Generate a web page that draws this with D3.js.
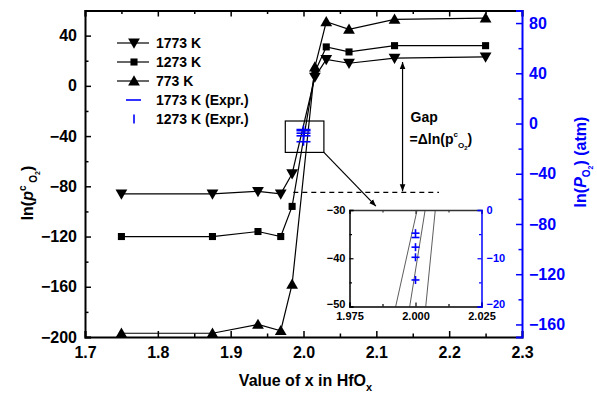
<!DOCTYPE html>
<html>
<head>
<meta charset="utf-8">
<script src="https://cdn.jsdelivr.net/npm/d3@7"></script>
<style>
  body { margin: 0; background: #fff; }
  svg { font-family: "Liberation Sans", Arial, sans-serif; font-weight: bold; }
</style>
</head>
<body>
<div id="chart"></div>
<script>
// x values (HfOx stoichiometry)
var xValues = [1.75, 1.875, 1.9375, 1.96875, 1.984375, 2.015625, 2.03125, 2.0625, 2.125, 2.25];
// ln(pc O2) per temperature
var k1773 = [-86, -86, -84, -86, -70, 7, 21, 18, 22, 23];
var k1273 = [-120, -120, -116, -120, -96, 11, 31, 27, 32, 32];
var k773  = [-197, -197, -190, -195, -158, 15, 51, 45, 53, 54];
// experimental ln(P O2) (atm), right axis, all at x = 2.000
var exprX = 2.0;
var expr1773 = [-4.8, -5.7, -7.7, -9.8, -14.5];
var expr1273 = [-4.8, -7.7, -9.8, -14.5];

var xTicks = [1.7, 1.8, 1.9, 2.0, 2.1, 2.2, 2.3];
var leftTicks = [-200, -160, -120, -80, -40, 0, 40];
var rightTicks = [-160, -120, -80, -40, 0, 40, 80];
var insetXTicks = [1.975, 2.000, 2.025];
var insetLeftTicks = [-50, -40, -30];
var insetRightTicks = [-20, -10, 0];

var legendNames = ["1773 K", "1273 K", "773 K", "1773 K (Expr.)", "1273 K (Expr.)"];

var gapBottom = -84.8, gapTop = 19, gapX = 2.136;

var width = 597, height = 395;
var margin = {top: 10.5, right: 75, bottom: 58, left: 85};
var blue = "#0000ff";

var svg = d3.select("#chart").append("svg")
    .attr("width", width).attr("height", height);

var x = d3.scaleLinear().domain([1.7, 2.3]).range([margin.left, width - margin.right]);
var yL = d3.scaleLinear().domain([-200, 60]).range([height - margin.bottom, margin.top]);
var yR = d3.scaleLinear().domain([-170, 90]).range([height - margin.bottom, margin.top]);

// arrow markers
var defs = svg.append("defs");
defs.append("marker").attr("id", "arr")
    .attr("viewBox", "0 0 10 10").attr("refX", 10).attr("refY", 5)
    .attr("markerWidth", 7).attr("markerHeight", 7).attr("markerUnits", "userSpaceOnUse")
    .attr("orient", "auto-start-reverse")
  .append("path").attr("d", "M0,1 L10,5 L0,9 Z").attr("fill", "#000");

function minorRange(a, b, step) {
  var out = [];
  for (var v = a; v <= b + 1e-9; v += step) out.push(+v.toFixed(4));
  return out;
}

// ---- main axes ----
function styleAxis(g, color, fs) {
  g.select(".domain").attr("stroke", color).attr("stroke-width", 2);
  g.selectAll(".tick line").attr("stroke", color).attr("stroke-width", 1.5);
  g.selectAll(".tick text").attr("fill", color).style("font-size", fs + "px")
    .style("font-weight", "bold").style("font-family", "Liberation Sans, Arial, sans-serif");
}
function minorStyle(g, color) {
  g.select(".domain").remove();
  g.selectAll("line").attr("stroke", color).attr("stroke-width", 1.5);
}

var bottomY = height - margin.bottom;
var gx = svg.append("g").attr("transform", "translate(0," + bottomY + ")")
    .call(d3.axisBottom(x).tickValues(xTicks).tickFormat(d3.format(".1f")).tickSize(-6).tickPadding(10));
styleAxis(gx, "#000", 16);
svg.append("g").attr("transform", "translate(0," + bottomY + ")")
    .call(d3.axisBottom(x).tickValues(minorRange(1.75, 2.25, 0.1)).tickFormat("").tickSize(-3.5))
    .call(function(g){ minorStyle(g, "#000"); });

var gTop = svg.append("g").attr("transform", "translate(0," + margin.top + ")")
    .call(d3.axisTop(x).tickValues(xTicks).tickFormat("").tickSize(-6));
styleAxis(gTop, "#000", 16);
svg.append("g").attr("transform", "translate(0," + margin.top + ")")
    .call(d3.axisTop(x).tickValues(minorRange(1.75, 2.25, 0.1)).tickFormat("").tickSize(-3.5))
    .call(function(g){ minorStyle(g, "#000"); });

var gl = svg.append("g").attr("transform", "translate(" + margin.left + ",0)")
    .call(d3.axisLeft(yL).tickValues(leftTicks).tickSize(-6).tickPadding(8));
styleAxis(gl, "#000", 16);
svg.append("g").attr("transform", "translate(" + margin.left + ",0)")
    .call(d3.axisLeft(yL).tickValues(minorRange(-180, 60, 40)).tickFormat("").tickSize(-3.5))
    .call(function(g){ minorStyle(g, "#000"); });

var rightX = width - margin.right;
var gr = svg.append("g").attr("transform", "translate(" + rightX + ",0)")
    .call(d3.axisRight(yR).tickValues(rightTicks).tickSize(-6).tickPadding(7));
styleAxis(gr, blue, 16);
svg.append("g").attr("transform", "translate(" + rightX + ",0)")
    .call(d3.axisRight(yR).tickValues(minorRange(-140, 60, 40)).tickFormat("").tickSize(-3.5))
    .call(function(g){ minorStyle(g, blue); });

// ---- axis titles ----
var xt = svg.append("text").attr("x", (margin.left + rightX) / 2 + 2).attr("y", 386)
    .attr("text-anchor", "middle").style("font-size", "16px");
xt.append("tspan").text("Value of x in HfO");
xt.append("tspan").attr("dy", 5).style("font-size", "11px").text("x");

var ylt = svg.append("text").attr("transform", "translate(33,193) rotate(-90)")
    .attr("text-anchor", "middle").style("font-size", "16px");
ylt.append("tspan").text("ln(");
ylt.append("tspan").style("font-style", "italic").text("p");
ylt.append("tspan").attr("dy", -7).style("font-size", "10px").text("c");
ylt.append("tspan").attr("dy", 11).style("font-size", "10px").text(" O");
ylt.append("tspan").attr("dy", 3).style("font-size", "7px").text("2");
ylt.append("tspan").attr("dy", -7).text(")");

var yrt = svg.append("text").attr("transform", "translate(586,162) rotate(-90)")
    .attr("text-anchor", "middle").attr("fill", blue).style("font-size", "16px");
yrt.append("tspan").text("ln(");
yrt.append("tspan").style("font-style", "italic").text("P");
yrt.append("tspan").attr("dy", 4).style("font-size", "10px").text("O");
yrt.append("tspan").attr("dy", 3).style("font-size", "7px").text("2");
yrt.append("tspan").attr("dy", -7).text(") (atm)");

// ---- series ----
var series = [
  {name: "1773 K", values: k1773, shape: "down"},
  {name: "1273 K", values: k1273, shape: "square"},
  {name: "773 K", values: k773, shape: "up"}
];

function markerPath(shape) {
  if (shape === "square") return d3.symbol(d3.symbolSquare, 50)();
  return d3.symbol(d3.symbolTriangle, 60)();
}
function markerTransform(shape, px, py) {
  if (shape === "down") return "translate(" + px + "," + (py - 1) + ") rotate(180)";
  if (shape === "up") return "translate(" + px + "," + (py + 1) + ")";
  return "translate(" + px + "," + py + ")";
}

var line = d3.line().x(function(d){ return x(d[0]); }).y(function(d){ return yL(d[1]); });

series.forEach(function(s) {
  var pts = xValues.map(function(v, i){ return [v, s.values[i]]; });
  svg.append("path").datum(pts).attr("d", line)
      .attr("fill", "none").attr("stroke", "#000").attr("stroke-width", 1.2);
});
series.forEach(function(s) {
  var pts = xValues.map(function(v, i){ return [v, s.values[i]]; });
  svg.append("g").selectAll("path").data(pts).enter().append("path")
      .attr("d", markerPath(s.shape))
      .attr("transform", function(d){ return markerTransform(s.shape, x(d[0]), yL(d[1])); })
      .attr("fill", "#000");
});

// experimental marks
function drawExpr(g, sx, sy, hw, vh) {
  g.selectAll(".eh").data(expr1773).enter().append("line")
    .attr("x1", sx(exprX) - hw / 2).attr("x2", sx(exprX) + hw / 2)
    .attr("y1", function(d){ return sy(d); }).attr("y2", function(d){ return sy(d); })
    .attr("stroke", blue).attr("stroke-width", 1.6);
  g.selectAll(".ev").data(expr1273).enter().append("line")
    .attr("x1", sx(exprX)).attr("x2", sx(exprX))
    .attr("y1", function(d){ return sy(d) - vh / 2; }).attr("y2", function(d){ return sy(d) + vh / 2; })
    .attr("stroke", blue).attr("stroke-width", 1.6);
}
drawExpr(svg.append("g"), x, yR, 14, 8);

// zoom box in main plot
var box = {x0: 1.975, x1: 2.028, y0: -53, y1: -28};
svg.append("rect")
    .attr("x", x(box.x0)).attr("y", yL(box.y1))
    .attr("width", x(box.x1) - x(box.x0)).attr("height", yL(box.y0) - yL(box.y1))
    .attr("fill", "none").attr("stroke", "#000").attr("stroke-width", 1.2);

// dashed reference line + gap arrow
svg.append("line")
    .attr("x1", x(1.986)).attr("x2", x(2.186))
    .attr("y1", yL(gapBottom)).attr("y2", yL(gapBottom))
    .attr("stroke", "#000").attr("stroke-width", 1.3).attr("stroke-dasharray", "5,4");
svg.append("line")
    .attr("x1", x(gapX)).attr("x2", x(gapX))
    .attr("y1", yL(gapTop)).attr("y2", yL(gapBottom) - 1)
    .attr("stroke", "#000").attr("stroke-width", 1.2)
    .attr("marker-start", "url(#arr)").attr("marker-end", "url(#arr)");

svg.append("text").attr("x", x(gapX) + 8).attr("y", 122).style("font-size", "14px").text("Gap");
var gt = svg.append("text").attr("x", x(gapX) + 7).attr("y", 144).style("font-size", "14px");
gt.append("tspan").text("=\u0394ln(p");
gt.append("tspan").attr("dy", -7).style("font-size", "8px").text("c");
gt.append("tspan").attr("dy", 11).style("font-size", "8px").text("O");
gt.append("tspan").attr("dy", 2).style("font-size", "6px").text("2");
gt.append("tspan").attr("dy", -6).text(")");

// ---- inset ----
var ix = d3.scaleLinear().domain([1.975, 2.025]).range([349.5, 481.5]);
var iy = d3.scaleLinear().domain([-50, -30]).range([306.5, 210]);
var iyR = d3.scaleLinear().domain([-20, 0]).range([306.5, 210]);

// connector from zoom box to inset
svg.append("line")
    .attr("x1", x(box.x1)).attr("y1", yL(box.y0))
    .attr("x2", ix(1.985)).attr("y2", iy(-29.2))
    .attr("stroke", "#000").attr("stroke-width", 1.2).attr("marker-end", "url(#arr)");

var inset = svg.append("g");
inset.append("rect").attr("x", ix(1.975)).attr("y", iy(-30))
    .attr("width", ix(2.025) - ix(1.975)).attr("height", iy(-50) - iy(-30)).attr("fill", "#fff");

defs.append("clipPath").attr("id", "insetClip").append("rect")
    .attr("x", ix(1.975)).attr("y", iy(-30))
    .attr("width", ix(2.025) - ix(1.975)).attr("height", iy(-50) - iy(-30));

var iline = d3.line().x(function(d){ return ix(d[0]); }).y(function(d){ return iy(d[1]); });
var clipG = inset.append("g").attr("clip-path", "url(#insetClip)");
series.forEach(function(s) {
  var pts = xValues.map(function(v, i){ return [v, s.values[i]]; });
  clipG.append("path").datum(pts).attr("d", iline)
      .attr("fill", "none").attr("stroke", "#333").attr("stroke-width", 0.8);
});
drawExpr(inset.append("g"), ix, iyR, 8, 8);

function styleInset(g, color) {
  g.select(".domain").attr("stroke", color).attr("stroke-width", 1.5);
  g.selectAll(".tick line").attr("stroke", color).attr("stroke-width", 1.2);
  g.selectAll(".tick text").attr("fill", color).style("font-size", "11px")
    .style("font-weight", "bold").style("font-family", "Liberation Sans, Arial, sans-serif");
}
function minorInset(g, color) {
  g.select(".domain").remove();
  g.selectAll("line").attr("stroke", color).attr("stroke-width", 1.2);
}

var ib = inset.append("g").attr("transform", "translate(0," + iy(-50) + ")")
    .call(d3.axisBottom(ix).tickValues(insetXTicks).tickFormat(d3.format(".3f")).tickSize(-4).tickPadding(6));
styleInset(ib, "#000");
inset.append("g").attr("transform", "translate(0," + iy(-50) + ")")
    .call(d3.axisBottom(ix).tickValues([1.9875, 2.0125]).tickFormat("").tickSize(-2.5))
    .call(function(g){ minorInset(g, "#000"); });
var it = inset.append("g").attr("transform", "translate(0," + iy(-30) + ")")
    .call(d3.axisTop(ix).tickValues(insetXTicks).tickFormat("").tickSize(-4));
styleInset(it, "#333");
inset.append("g").attr("transform", "translate(0," + iy(-30) + ")")
    .call(d3.axisTop(ix).tickValues([1.9875, 2.0125]).tickFormat("").tickSize(-2.5))
    .call(function(g){ minorInset(g, "#333"); });
var il = inset.append("g").attr("transform", "translate(" + ix(1.975) + ",0)")
    .call(d3.axisLeft(iy).tickValues(insetLeftTicks).tickSize(-4).tickPadding(4));
styleInset(il, "#000");
il.selectAll(".tick text").attr("dy", function(d){ return d === -50 ? "0.1em" : "0.32em"; });
inset.append("g").attr("transform", "translate(" + ix(1.975) + ",0)")
    .call(d3.axisLeft(iy).tickValues([-45, -35]).tickFormat("").tickSize(-2.5))
    .call(function(g){ minorInset(g, "#000"); });
var ir = inset.append("g").attr("transform", "translate(" + ix(2.025) + ",0)")
    .call(d3.axisRight(iyR).tickValues(insetRightTicks).tickSize(-4).tickPadding(5));
styleInset(ir, blue);
ir.selectAll(".tick text").attr("dy", function(d){ return d === -20 ? "0.1em" : "0.32em"; });
inset.append("g").attr("transform", "translate(" + ix(2.025) + ",0)")
    .call(d3.axisRight(iyR).tickValues([-15, -5]).tickFormat("").tickSize(-2.5))
    .call(function(g){ minorInset(g, blue); });

// ---- legend ----
var legend = svg.append("g");
var legY0 = 43, legStep = 19, legCx = 134;
legendNames.forEach(function(name, i) {
  var ly = legY0 + i * legStep;
  if (i < 3) {
    legend.append("line").attr("x1", legCx - 17).attr("x2", legCx + 15).attr("y1", ly).attr("y2", ly)
        .attr("stroke", "#000").attr("stroke-width", 1.2);
    legend.append("path").attr("d", markerPath(series[i].shape))
        .attr("transform", markerTransform(series[i].shape, legCx, ly)).attr("fill", "#000");
  } else if (i === 3) {
    legend.append("line").attr("x1", legCx - 8).attr("x2", legCx + 7).attr("y1", ly).attr("y2", ly)
        .attr("stroke", blue).attr("stroke-width", 1.6);
  } else {
    legend.append("line").attr("x1", legCx).attr("x2", legCx).attr("y1", ly - 4.5).attr("y2", ly + 4.5)
        .attr("stroke", blue).attr("stroke-width", 1.6);
  }
  legend.append("text").attr("x", 156).attr("y", ly + 5).style("font-size", "14px").text(name);
});
</script>
</body>
</html>
